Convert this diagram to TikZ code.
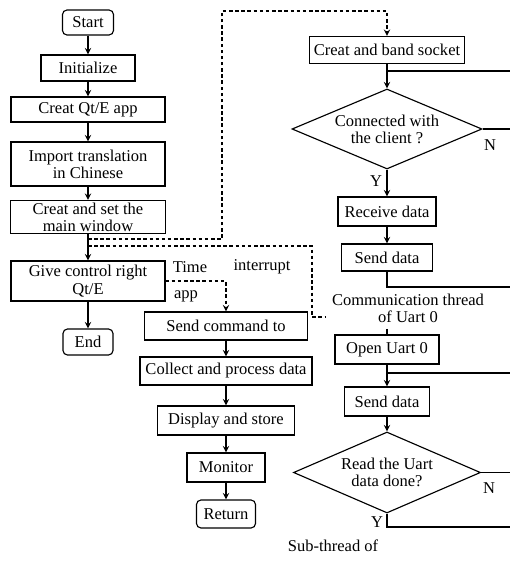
\documentclass[tikz,border=0pt]{standalone}
\usepackage{fontspec}
\setmainfont{Liberation Serif}
\usetikzlibrary{shapes.geometric}
\begin{document}
\begin{tikzpicture}[>=stealth, x=0.2mm, y=-0.2mm, line width=0.65pt,
  font=\fontsize{9.4}{9.8}\selectfont,
  box/.style={draw, inner sep=0pt, align=center},
  term/.style={box, rounded corners=0.9mm},
  test/.style={draw, diamond, aspect=2.4, inner sep=0pt, align=center},
  ctrl/.style={dash pattern=on 2pt off 1.5pt}]
\useasboundingbox (0,0) rectangle (510,562);

% main program
\node[term, minimum width=10.2mm, minimum height=5mm] (start) at (88,22.5) {Start};
\node[box, minimum width=18.8mm, minimum height=5.2mm] (init) at (88,68) {Initialize};
\node[box, minimum width=30.8mm, minimum height=5mm] (qtapp) at (88,109.5) {Creat Qt/E app};
\node[box, minimum width=30.8mm, minimum height=8.8mm] (trans) at (88,164) {Import translation\\ in Chinese};
\node[box, minimum width=31mm, minimum height=6.6mm] (mainwin) at (88,217) {Creat and set the\\main window};
\node[box, minimum width=30.8mm, minimum height=8mm] (give) at (88,281) {Give control right\\Qt/E};
\node[term, minimum width=10mm, minimum height=5.2mm] (stop) at (88,342) {End};

\draw[->] (start) -- (init);
\draw[->] (init) -- (qtapp);
\draw[->] (qtapp) -- (trans);
\draw[->] (trans) -- (mainwin);
\draw[->] (mainwin) -- (give);
\draw[->] (give) -- (stop);

% timer interrupt
\node (time) at (190,267) {Time};
\node (intr) at (262,267) {interrupt};
\node (app) at (186,296) {app};
\node[box, minimum width=32.6mm, minimum height=5.6mm] (sendcmd) at (226,326) {Send command to};
\node[box, minimum width=34.4mm, minimum height=5.6mm] (collect) at (226,371) {Collect and process data};
\node[box, minimum width=27.4mm, minimum height=5.8mm] (store) at (226,420.5) {Display and store};
\node[box, minimum width=15.6mm, minimum height=5.8mm] (monitor) at (226,467.5) {Monitor};
\node[term, minimum width=11.8mm, minimum height=5.6mm] (ret) at (226,514) {Return};

\draw[->] (sendcmd) -- (collect);
\draw[->] (collect) -- (store);
\draw[->] (store) -- (monitor);
\draw[->] (monitor) -- (ret);

% communication thread
\node[box, minimum width=31mm, minimum height=5.4mm] (socket) at (387,50) {Creat and band socket};
\node[test, minimum width=38mm, minimum height=16mm] (client) at (387,129) {Connected with\\the client ?};
\node[box, minimum width=19.6mm, minimum height=5.8mm] (recv) at (387,211.5) {Receive data};
\node[box, minimum width=18.2mm, minimum height=5.4mm] (send) at (387,257.5) {Send data};
\node[align=center] (comm) at (408,308) {Communication thread\\of Uart 0};

\draw[->] (socket) -- (client);
\draw[->] (client) -- (recv);
\node (yes1) at (376,181) {Y};
\draw[->] (recv) -- (send);
\coordinate (loopa) at (387,71);
\coordinate (edgea) at (510,71);
\draw (loopa) -- (edgea);
\coordinate (edgeb) at (510,129);
\draw (client.east) -- (edgeb);
\node (no1) at (490,145) {N};
\coordinate (edgec) at (510,287);
\draw (send.south) |- (edgec);

% uart sub-thread
\node[box, minimum width=20.8mm, minimum height=5.8mm] (openu) at (387,349.5) {Open Uart 0};
\node[box, minimum width=17mm, minimum height=5.8mm] (sendu) at (387,401.5) {Send data};
\node[test, minimum width=37.4mm, minimum height=16.2mm] (done) at (387,472.5) {Read the Uart\\data done?};
\node (sub) at (333,546) {Sub-thread of};

\draw (openu.north |- comm.south) -- (openu);
\draw[->] (openu) -- (sendu);
\draw[->] (sendu) -- (done);
\coordinate (loopd) at (387,373);
\coordinate (edged) at (510,373);
\draw (loopd) -- (edged);
\coordinate (edgee) at (510,472.5);
\draw (done.east) -- (edgee);
\node (no2) at (489,488) {N};
\coordinate (edgef) at (510,527);
\draw (done.south) |- (edgef);
\node (yes2) at (377,522) {Y};

% thread creation
\coordinate (fa) at (88,239);
\coordinate (fb) at (88,246);
\coordinate (ta) at (222,11);
\coordinate (tb) at (312,317);
\draw[ctrl, ->] (fa) -| (ta) -| (socket.north);
\draw[ctrl] (fb) -| (tb) -- (comm.west |- tb);
\draw[ctrl, ->] (give.east) -| (sendcmd.north);
\end{tikzpicture}
\end{document}
